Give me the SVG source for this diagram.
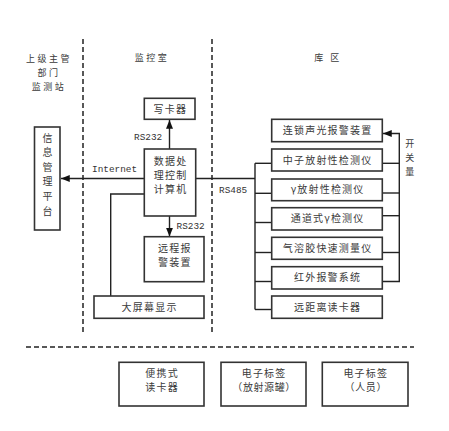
<svg xmlns="http://www.w3.org/2000/svg" width="449" height="431" viewBox="0 0 449 431">
<defs>
<style>
.box{fill:#fff;stroke:#333;stroke-width:1.6}
.ln{fill:none;stroke:#222;stroke-width:1.4}
.dash{fill:none;stroke:#222;stroke-width:1.5;stroke-dasharray:5 3}
.t{font-family:"Noto Sans CJK SC",sans-serif;font-size:10px;fill:#3a3a3a;text-anchor:middle;letter-spacing:1.2px}
.s{font-family:"Noto Sans CJK SC",sans-serif;font-size:9px;fill:#3a3a3a;text-anchor:middle;letter-spacing:2.5px}
.m{font-family:"Liberation Mono",monospace;font-size:9.4px;fill:#333}
</style>
<marker id="ah" viewBox="0 0 10 8" refX="10" refY="4" markerWidth="9" markerHeight="7" markerUnits="userSpaceOnUse" orient="auto">
<path d="M0,0 L10,4 L0,8 Z" fill="#111"/>
</marker>
</defs>
<rect width="449" height="431" fill="#fff"/>

<g id="zones">
<line class="dash" x1="83" y1="39" x2="83" y2="333"/>
<line class="dash" x1="212" y1="39" x2="212" y2="333"/>
<line class="dash" x1="26" y1="347" x2="414" y2="347"/>
<text class="s" x="49" y="61.5">上级主管</text>
<text class="s" x="49" y="75.5">部门</text>
<text class="s" x="49" y="89.5">监测站</text>
<text class="s" x="152" y="61">监控室</text>
<text class="s" x="328" y="60.5">库 区</text>
</g>

<g id="connectors">
<line class="ln" x1="144" y1="178.5" x2="61" y2="178.5" marker-end="url(#ah)"/>
<line class="ln" x1="169.5" y1="149" x2="169.5" y2="120" marker-end="url(#ah)"/>
<line class="ln" x1="169.5" y1="216" x2="169.5" y2="236.5" marker-end="url(#ah)"/>
<polyline class="ln" points="144.3,194 110.7,194 110.7,296"/>
<line class="ln" x1="195.7" y1="178.5" x2="255" y2="178.5"/>
<line class="ln" x1="255" y1="163.3" x2="255" y2="309.5"/>
<line class="ln" x1="255" y1="163.3" x2="271.7" y2="163.3"/>
<line class="ln" x1="255" y1="193.3" x2="271.7" y2="193.3"/>
<line class="ln" x1="255" y1="222.5" x2="271.7" y2="222.5"/>
<line class="ln" x1="255" y1="252.5" x2="271.7" y2="252.5"/>
<line class="ln" x1="255" y1="281.5" x2="271.7" y2="281.5"/>
<line class="ln" x1="255" y1="309.5" x2="271.7" y2="309.5"/>
<polyline class="ln" points="382.3,281.5 399.3,281.5 399.3,133.5 383,133.5" marker-end="url(#ah)"/>
<line class="ln" x1="382.3" y1="163.3" x2="399.3" y2="163.3"/>
<line class="ln" x1="382.3" y1="193" x2="399.3" y2="193"/>
<line class="ln" x1="382.3" y1="215.7" x2="399.3" y2="215.7"/>
<line class="ln" x1="382.3" y1="252.5" x2="399.3" y2="252.5"/>
<text class="m" x="92" y="171.5">Internet</text>
<text class="m" x="134" y="140">RS232</text>
<text class="m" x="176.5" y="229">RS232</text>
<text class="m" x="219" y="192.5">RS485</text>
<text class="s" x="411" y="147">开</text>
<text class="s" x="411" y="160.5">关</text>
<text class="s" x="411" y="174.5">量</text>
</g>

<g id="info-platform">
<rect class="box" x="34.5" y="127" width="25.5" height="103"/>
<text class="t" x="48.2" y="141.5">信</text>
<text class="t" x="48.2" y="156.1">息</text>
<text class="t" x="48.2" y="170.7">管</text>
<text class="t" x="48.2" y="185.3">理</text>
<text class="t" x="48.2" y="199.9">平</text>
<text class="t" x="48.2" y="214.5">台</text>
</g>

<g id="card-writer">
<rect class="box" x="144.3" y="98.3" width="50.7" height="21"/>
<text class="t" x="170.3" y="112.5">写卡器</text>
</g>

<g id="computer">
<rect class="box" x="144.3" y="149" width="51.4" height="67"/>
<text class="t" x="170.6" y="164.5">数据处</text>
<text class="t" x="170.6" y="179">理控制</text>
<text class="t" x="170.6" y="193">计算机</text>
</g>

<g id="remote-alarm">
<rect class="box" x="144.3" y="236.7" width="59.7" height="45"/>
<text class="t" x="174.8" y="251.5">远程报</text>
<text class="t" x="174.8" y="266">警装置</text>
</g>

<g id="big-screen">
<rect class="box" x="94" y="296" width="110" height="22.3"/>
<text class="t" x="149.6" y="311">大屏幕显示</text>
</g>

<g id="interlock-alarm">
<rect class="box" x="271.7" y="119.3" width="110.6" height="22.4"/>
<text class="t" x="327.6" y="134">连锁声光报警装置</text>
</g>
<g id="neutron">
<rect class="box" x="271.7" y="149" width="110.6" height="22"/>
<text class="t" x="327.6" y="163.5">中子放射性检测仪</text>
</g>
<g id="gamma">
<rect class="box" x="271.7" y="179" width="110.6" height="21.7"/>
<text class="t" x="327.6" y="193.3">γ放射性检测仪</text>
</g>
<g id="channel-gamma">
<rect class="box" x="271.7" y="207.7" width="110.6" height="22.3"/>
<text class="t" x="327.6" y="222.3">通道式γ检测仪</text>
</g>
<g id="aerosol">
<rect class="box" x="271.7" y="237.3" width="110.6" height="22"/>
<text class="t" x="327.6" y="251.8">气溶胶快速测量仪</text>
</g>
<g id="infrared">
<rect class="box" x="271.7" y="266.7" width="110.6" height="22.3"/>
<text class="t" x="327.6" y="281.3">红外报警系统</text>
</g>
<g id="long-reader">
<rect class="box" x="271.7" y="296" width="110.6" height="22.3"/>
<text class="t" x="327.6" y="310.6">远距离读卡器</text>
</g>

<g id="portable-reader">
<rect class="box" x="119" y="362.3" width="85" height="43.7"/>
<text class="t" x="162.1" y="377">便携式</text>
<text class="t" x="162.1" y="391">读卡器</text>
</g>
<g id="tag-source">
<rect class="box" x="221" y="362.3" width="85" height="43.7"/>
<text class="t" x="264.1" y="377">电子标签</text>
<text class="t" x="264.1" y="391" style="letter-spacing:0.6px">（放射源罐）</text>
</g>
<g id="tag-person">
<rect class="box" x="322.3" y="362.3" width="85.7" height="43.7"/>
<text class="t" x="365.8" y="377">电子标签</text>
<text class="t" x="365.8" y="391" style="letter-spacing:0.6px">（人员）</text>
</g>
</svg>
